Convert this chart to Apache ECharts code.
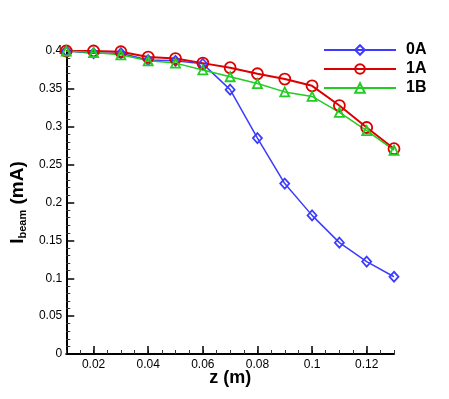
<!DOCTYPE html>
<html>
<head>
  <meta charset="UTF-8">
  <title>Ibeam vs z</title>
  <script src="https://cdn.jsdelivr.net/npm/echarts@6/dist/echarts.min.js"></script>
</head>
<body style="margin:0">
  <div id="main" style="width: 449px; height: 399px"></div>
  <script>
    // data
    const zVals = [0.01, 0.02, 0.03, 0.04, 0.05, 0.06, 0.07, 0.08, 0.09, 0.1, 0.11, 0.12, 0.13];
    const i0A = [0.400, 0.397, 0.397, 0.388, 0.387, 0.383, 0.349, 0.285, 0.225, 0.183, 0.147, 0.122, 0.102];
    const i1A = [0.400, 0.400, 0.399, 0.392, 0.390, 0.384, 0.378, 0.370, 0.363, 0.354, 0.328, 0.299, 0.271];
    const i1B = [0.400, 0.398, 0.395, 0.387, 0.384, 0.375, 0.366, 0.357, 0.346, 0.340, 0.319, 0.295, 0.269];
    const xLabels = [0.02, 0.04, 0.06, 0.08, 0.1, 0.12];

    const pairs = arr => zVals.map((z, i) => [z, arr[i]]);
    const font = 'Liberation Sans, Arial, sans-serif';

    const mk = (name, data, color, symbol, size, width) => ({
      name: name,
      type: 'line',
      data: pairs(data),
      symbol: symbol,
      symbolSize: size,
      lineStyle: { color: color, width: width },
      itemStyle: { color: 'transparent', borderColor: color, borderWidth: 1.8 },
      emphasis: { disabled: true },
      animation: false
    });

    const chart = echarts.init(document.getElementById('main'));
    chart.setOption({
      backgroundColor: '#fff',
      textStyle: { fontFamily: font },
      grid: { left: 58, right: 55, top: 51, bottom: 45 },
      legend: {
        orient: 'vertical',
        left: 318,
        top: 37,
        itemWidth: 72,
        itemHeight: 12,
        itemGap: 3,
        textStyle: { fontSize: 16, fontWeight: 'bold', color: '#000', padding: [0, 0, 0, 5] },
        data: ['0A', '1A', '1B']
      },
      xAxis: [{
        type: 'value',
        min: 0.01,
        max: 0.13,
        interval: 0.005,
        name: 'z (m)',
        nameLocation: 'middle',
        nameGap: 15,
        nameMoveOverlap: false,
        nameTextStyle: { fontSize: 18, fontWeight: 'bold', color: '#000' },
        axisLine: { lineStyle: { color: '#000', width: 2 } },
        axisTick: { inside: true, length: 4, lineStyle: { color: '#333' } },
        axisLabel: { customValues: xLabels, fontSize: 12, color: '#000', margin: 5 },
        splitLine: { show: false }
      }, {
        type: 'value',
        position: 'bottom',
        min: 0.01,
        max: 0.13,
        axisLine: { show: false },
        axisTick: { inside: true, length: 8, customValues: xLabels, lineStyle: { color: '#000', width: 1.5 } },
        axisLabel: { show: false },
        splitLine: { show: false }
      }],
      yAxis: {
        type: 'value',
        min: 0,
        max: 0.4,
        interval: 0.05,
        name: '{a|I}{b|beam}{a| (mA)}',
        nameLocation: 'middle',
        nameGap: 17,
        nameTextStyle: {
          color: '#000',
          rich: {
            a: { fontSize: 19, fontWeight: 'bold', color: '#000', fontFamily: font },
            b: { fontSize: 11, fontWeight: 'bold', color: '#000', fontFamily: font, verticalAlign: 'bottom', padding: [10, 0, 0, 0] }
          }
        },
        axisLine: { show: true, lineStyle: { color: '#000', width: 2 } },
        axisTick: { inside: true, length: 8, lineStyle: { color: '#000', width: 1.5 } },
        minorTick: { show: true, splitNumber: 5, length: 4, lineStyle: { color: '#333' } },
        axisLabel: { fontSize: 12, color: '#000', margin: 4 },
        splitLine: { show: false }
      },
      series: [
        mk('0A', i0A, '#3c3cff', 'diamond', [9, 10], 1.5),
        mk('1A', i1A, '#dd0000', 'circle', 11, 2),
        mk('1B', i1B, '#22cc22', 'triangle', 9, 1.5)
      ]
    });
  </script>
</body>
</html>
